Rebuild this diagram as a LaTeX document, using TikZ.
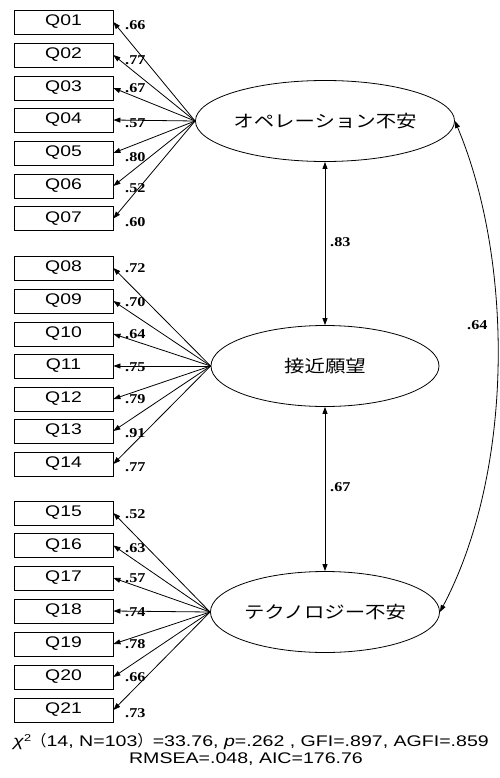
\documentclass[tikz,border=0pt]{standalone}
\usepackage{fontspec}
\usetikzlibrary{arrows.meta,shapes.geometric}
\newfontfamily\qfont[FakeStretch=1.26]{Liberation Sans}
\newfontfamily\bfont[FakeStretch=1.27]{Liberation Sans}
\newfontfamily\lfont[FakeStretch=1.2]{Liberation Serif}
\newfontfamily\jfont[FakeStretch=1.2]{Noto Sans CJK JP}
\newfontfamily\jpfont[FakeStretch=1.0]{Noto Sans CJK JP}
\tikzset{
  qbox/.style={draw, line width=0.8pt, minimum width=99pt, minimum height=24pt, inner sep=0pt,
    font=\qfont\fontsize{15.4}{15}\selectfont},
  lat/.style={draw, ellipse, line width=0.8pt, minimum width=228pt, minimum height=81pt, inner sep=0pt,
    font=\jfont\fontsize{17}{18}\selectfont},
  lab/.style={inner sep=0pt, anchor=west, font=\lfont\bfseries\fontsize{13.5}{14}\selectfont},
  conn/.style={line width=0.8pt, -{Triangle[length=7pt,width=5pt]}},
  dconn/.style={line width=0.8pt, {Triangle[length=7pt,width=5pt]}-{Triangle[length=7pt,width=5pt]}},
  fit/.style={inner sep=0pt, anchor=base, font=\bfont\fontsize{15.4}{16}\selectfont}
}
\begin{document}
\begin{tikzpicture}[x=1pt,y=-1pt]
\useasboundingbox (0,0) rectangle (499,778);
% latent variables
\node[lat] (E1) at (325,121) {オペレーション不安};
\node[lat] (E2) at (325,366) {接近願望};
\node[lat] (E3) at (325,612) {テクノロジー不安};
% indicators
\foreach \n/\t/\y/\l/\ly/\e in {
  q1/Q01/22/.66/25/E1, q2/Q02/55/.77/60/E1, q3/Q03/88/.67/88/E1, q4/Q04/120/.57/123/E1,
  q5/Q05/153/.80/157/E1, q6/Q06/186/.52/188/E1, q7/Q07/218.5/.60/222/E1,
  q8/Q08/268/.72/268/E2, q9/Q09/301/.70/302/E2, q10/Q10/334/.64/334/E2, q11/Q11/366/.75/367/E2,
  q12/Q12/399/.79/399/E2, q13/Q13/431/.91/433/E2, q14/Q14/464/.77/467/E2,
  q15/Q15/513/.52/514/E3, q16/Q16/545.5/.63/548/E3, q17/Q17/578/.57/578/E3, q18/Q18/611/.74/612/E3,
  q19/Q19/644/.78/644/E3, q20/Q20/677/.66/677/E3, q21/Q21/710/.73/713/E3} {
  \node[qbox] (\n) at (63.5,\y) {\t};
  \draw[conn] (\e.west) -- (\n.east);
  \node[lab] (l\n) at (125,\ly) {\l};
}
% correlations
\draw[dconn] (E1.south) -- (E2.north);
\draw[dconn] (E2.south) -- (E3.north);
\draw[dconn] (E1.east) .. controls (514,262) and (514,472) .. (E3.east);
\node[lab] (c12) at (330,242) {.83};
\node[lab] (c23) at (330,487) {.67};
\node[lab] (c13) at (467,325) {.64};
% fit indices
\node[fit] (fit1) at (251,746) {\textit{χ}\raisebox{5pt}{\fontsize{10}{10}\selectfont 2}{\jpfont\fontsize{15.4}{16}\selectfont（}14, N=103{\jpfont\fontsize{15.4}{16}\selectfont）}=33.76, \textit{p}=.262 , GFI=.897, AGFI=.859};
\node[fit] (fit2) at (246,763) {RMSEA=.048, AIC=176.76};
\end{tikzpicture}
\end{document}
